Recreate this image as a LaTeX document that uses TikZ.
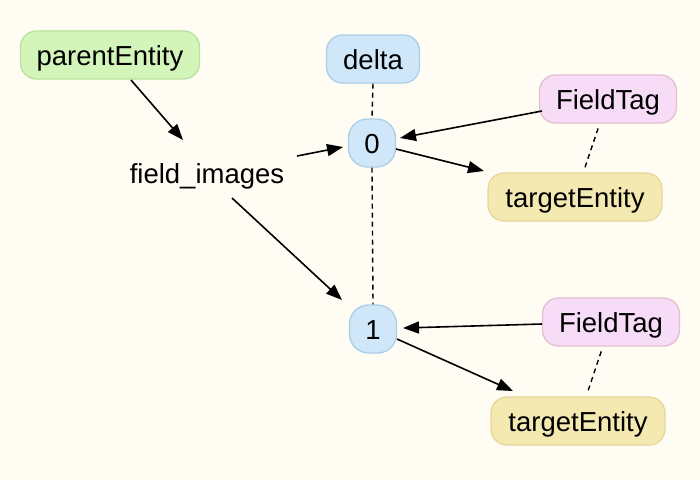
\documentclass[tikz,border=0pt]{standalone}
\usepackage{fontspec}
\setmainfont{Liberation Sans}
\usetikzlibrary{arrows.meta,calc}
\definecolor{bg}{RGB}{255,252,244}
\definecolor{gfill}{RGB}{212,245,186}
\definecolor{gdraw}{RGB}{184,226,156}
\definecolor{bfill}{RGB}{207,231,248}
\definecolor{bdraw}{RGB}{172,206,230}
\definecolor{pfill}{RGB}{247,220,247}
\definecolor{pdraw}{RGB}{226,192,204}
\definecolor{yfill}{RGB}{245,233,178}
\definecolor{ydraw}{RGB}{230,216,152}
\tikzset{
  box/.style={rounded corners=16pt, line width=1.3pt, minimum height=48pt, inner sep=0pt, text height=20pt, text depth=0pt, font=\fontsize{27.5}{33}\selectfont},
  ent/.style={box, fill=gfill, draw=gdraw},
  blu/.style={box, fill=bfill, draw=bdraw},
  idx/.style={box, fill=bfill, draw=bdraw, minimum width=47pt, rounded corners=19pt},
  tag/.style={box, fill=pfill, draw=pdraw},
  tgt/.style={box, fill=yfill, draw=ydraw},
  plain/.style={inner sep=0pt, font=\fontsize{27.5}{33}\selectfont},
  arr/.style={line width=1.6pt, -{Triangle[length=16pt,width=12pt]}},
  dsh/.style={line width=1.4pt, dash pattern=on 5pt off 4pt}
}
\begin{document}
\begin{tikzpicture}[x=1pt,y=-1pt]
\fill[bg] (0,0) rectangle (700,480);
\useasboundingbox (0,0) rectangle (700,480);
\node[ent, minimum width=179pt] (pe) at (110,55) {parentEntity};
\node[blu, minimum width=93pt] (delta) at (373,59) {delta};
\node[plain] (fi) at (207,176) {field\_images};
\node[idx] (n0) at (372,143) {0};
\node[idx] (n1) at (373,329) {1};
\node[tag, minimum width=137pt] (ft1) at (608,99) {FieldTag};
\node[tgt, minimum width=174pt] (te1) at (575,197) {targetEntity};
\node[tag, minimum width=137pt] (ft2) at (611,322) {FieldTag};
\node[tgt, minimum width=174pt] (te2) at (578,421) {targetEntity};

\draw[arr] ($(pe)+(21,25)$) -- ($(fi)+(-24,-36)$);
\draw[arr] ($(fi)+(90,-20)$) -- ($(n0)+(-29,4)$);
\draw[arr] ($(fi)+(25,22)$) -- ($(n1)+(-31,-29)$);
\draw[dsh] (delta.south) -- (n0.north);
\draw[dsh] (n0.south) -- (n1.north);
\draw[arr] ($(ft1)+(-66,12)$) -- ($(n0)+(28,-5)$);
\draw[arr] ($(n0)+(24,6)$) -- ($(te1)+(-91,-26)$);
\draw[dsh, shorten <=5pt, shorten >=3pt] (ft1) -- (te1);
\draw[arr] ($(ft2)+(-69,2)$) -- ($(n1)+(30,-1)$);
\draw[arr] ($(n1)+(24,10)$) -- ($(te2)+(-65,-30)$);
\draw[dsh, shorten <=5pt, shorten >=3pt] (ft2) -- (te2);
\end{tikzpicture}
\end{document}
